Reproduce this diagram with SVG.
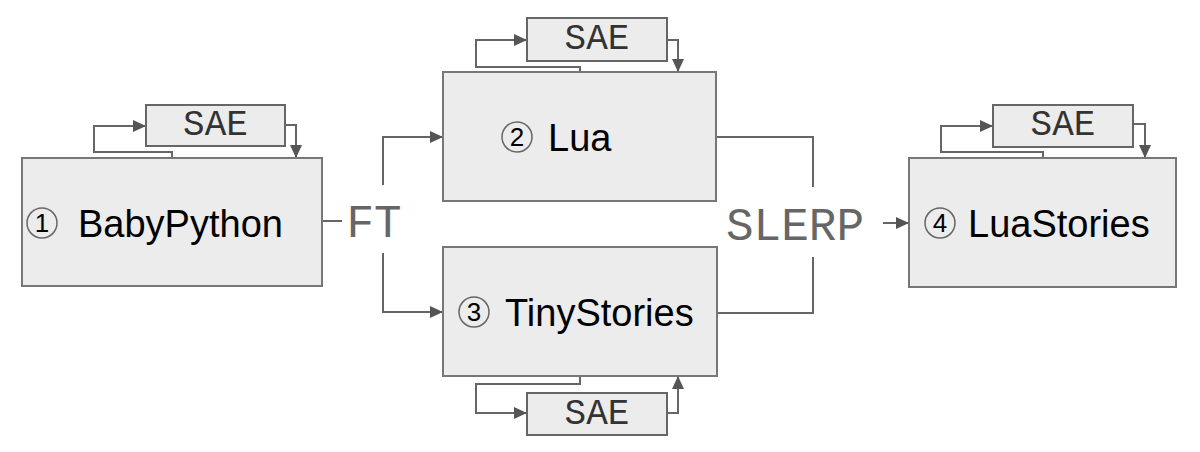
<svg xmlns="http://www.w3.org/2000/svg" width="1200" height="452" viewBox="0 0 1200 452">
<style>
.box{fill:#ececec;stroke:#777;stroke-width:2}
.sae{fill:#ececec;stroke:#666;stroke-width:2}
.ln{fill:none;stroke:#666;stroke-width:2}
.mono{font-family:"Liberation Mono","DejaVu Sans Mono","Noto Sans Mono",Courier,monospace}
.sans{font-family:"Liberation Sans",Arial,sans-serif}
</style>
<defs>
<marker id="ah" markerUnits="userSpaceOnUse" markerWidth="14" markerHeight="12" refX="13" refY="6" orient="auto">
<path d="M0,0 L13,6 L0,12 z" fill="#555"/>
</marker>
</defs>
<rect width="1200" height="452" fill="#fff"/>

<g id="connectors">
<path class="ln" d="M172,158 V152 H94 V126 H146" marker-end="url(#ah)"/>
<path class="ln" d="M285,125 H296 V158" marker-end="url(#ah)"/>
<path class="ln" d="M580,72 V67 H476 V40 H527" marker-end="url(#ah)"/>
<path class="ln" d="M667,40 H678 V72" marker-end="url(#ah)"/>
<path class="ln" d="M580,376 V384 H476 V413 H527" marker-end="url(#ah)"/>
<path class="ln" d="M667,413 H678 V376" marker-end="url(#ah)"/>
<path class="ln" d="M1043,158 V152 H941 V126 H993" marker-end="url(#ah)"/>
<path class="ln" d="M1133,124 H1145 V158" marker-end="url(#ah)"/>
<path class="ln" d="M322,221 H342"/>
<path class="ln" d="M383,185 V137 H443" marker-end="url(#ah)"/>
<path class="ln" d="M383,253 V312 H443" marker-end="url(#ah)"/>
<path class="ln" d="M716,137 H813 V187"/>
<path class="ln" d="M717,313 H813 V257"/>
<path class="ln" d="M883,223 H909" marker-end="url(#ah)"/>
<text class="mono" x="374" y="237" font-size="46" fill="#666" text-anchor="middle">FT</text>
<text class="mono" x="795" y="240" font-size="46" fill="#666" text-anchor="middle">SLERP</text>
</g>

<g id="sae1"><rect class="sae" x="146" y="105" width="139" height="41"/><text class="mono" x="215.5" y="135" font-size="36" fill="#333" text-anchor="middle">SAE</text></g>
<g id="sae2"><rect class="sae" x="527" y="18" width="140" height="43"/><text class="mono" x="597" y="49" font-size="36" fill="#333" text-anchor="middle">SAE</text></g>
<g id="sae3"><rect class="sae" x="527" y="393" width="140" height="42"/><text class="mono" x="597" y="424" font-size="36" fill="#333" text-anchor="middle">SAE</text></g>
<g id="sae4"><rect class="sae" x="993" y="105" width="140" height="42"/><text class="mono" x="1063" y="135" font-size="36" fill="#333" text-anchor="middle">SAE</text></g>

<g id="babypython">
<rect class="box" x="22" y="158" width="300" height="128"/>
<circle cx="42" cy="223" r="15" fill="none" stroke="#666" stroke-width="1.5"/>
<text class="sans" x="42" y="232" font-size="26" text-anchor="middle" fill="#000">1</text>
<text class="sans" x="78" y="237" font-size="38" fill="#000">BabyPython</text>
</g>
<g id="lua">
<rect class="box" x="443" y="72" width="273" height="129"/>
<circle cx="517" cy="137" r="15" fill="none" stroke="#666" stroke-width="1.5"/>
<text class="sans" x="517" y="146" font-size="26" text-anchor="middle" fill="#000">2</text>
<text class="sans" x="548" y="151" font-size="38" fill="#000">Lua</text>
</g>
<g id="tinystories">
<rect class="box" x="443" y="247" width="274" height="129"/>
<circle cx="474" cy="312" r="15" fill="none" stroke="#666" stroke-width="1.5"/>
<text class="sans" x="474" y="321" font-size="26" text-anchor="middle" fill="#000">3</text>
<text class="sans" x="505" y="326" font-size="38" fill="#000">TinyStories</text>
</g>
<g id="luastories">
<rect class="box" x="909" y="158" width="267" height="129"/>
<circle cx="940" cy="223" r="15" fill="none" stroke="#666" stroke-width="1.5"/>
<text class="sans" x="940" y="232" font-size="26" text-anchor="middle" fill="#000">4</text>
<text class="sans" x="968" y="237" font-size="38" fill="#000">LuaStories</text>
</g>
</svg>
